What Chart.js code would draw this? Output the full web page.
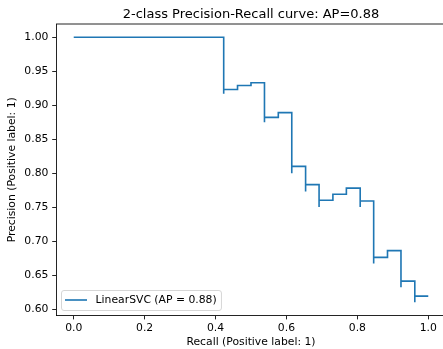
<!DOCTYPE html>
<html>
<head>
<meta charset="utf-8">
<script src="https://cdn.jsdelivr.net/npm/chart.js@4.4.1/dist/chart.umd.min.js"></script>
<style>
  html, body { margin: 0; padding: 0; overflow: hidden; background: #fff; }
  #wrap { width: 460px; height: 349px; }
</style>
</head>
<body>
<div id="wrap"><canvas id="pr-chart"></canvas></div>
<script>
// ==================== DATA ====================
// points in increasing recall; each point's precision holds back to the previous recall
const recall = [0, 0.423, 0.423, 0.462, 0.5, 0.538, 0.538, 0.577, 0.615, 0.615, 0.654, 0.654, 0.692,
  0.692, 0.731, 0.769, 0.808, 0.808, 0.846, 0.846, 0.885, 0.923, 0.923, 0.962, 0.962, 1.0];
const precision = [1, 1, 0.917, 0.923, 0.929, 0.933, 0.875, 0.882, 0.889, 0.8, 0.81, 0.773, 0.783,
  0.75, 0.76, 0.769, 0.778, 0.75, 0.759, 0.667, 0.676, 0.686, 0.632, 0.641, 0.61, 0.619];
const xTicks = [0.0, 0.2, 0.4, 0.6, 0.8, 1.0];
const yTicks = [0.60, 0.65, 0.70, 0.75, 0.80, 0.85, 0.90, 0.95, 1.00];

const seriesLabel = 'LinearSVC (AP = 0.88)';
const chartTitle = '2-class Precision-Recall curve: AP=0.88';

const FONT = 'DejaVu Sans';
const BLUE = '#1f77b4';
const FS = 10.8;

// title over the axes + top/right spines
const framePlugin = {
  id: 'frame',
  afterDatasetsDraw(chart) {
    const { ctx, chartArea: a } = chart;
    ctx.save();
    ctx.strokeStyle = '#000';
    ctx.lineWidth = 0.86;
    ctx.beginPath();
    ctx.moveTo(a.left, a.top);
    ctx.lineTo(a.right, a.top);
    ctx.lineTo(a.right, a.bottom);
    ctx.stroke();
    ctx.font = `13px "${FONT}"`;
    ctx.fillStyle = '#000';
    ctx.textAlign = 'center';
    ctx.textBaseline = 'alphabetic';
    ctx.fillText(chartTitle, (a.left + a.right) / 2, a.top - 6);
    ctx.restore();
  }
};

// matplotlib-like legend in lower left corner
const innerLegend = {
  id: 'innerLegend',
  afterDraw(chart) {
    const { ctx, chartArea: a } = chart;
    ctx.save();
    ctx.font = `${FS}px "${FONT}"`;
    const tw = ctx.measureText(seriesLabel).width;
    const w = 4 + 22 + 8.6 + tw + 4.3;
    const h = 20;
    const x = a.left + 5;
    const y = a.bottom - 5.6 - h;
    ctx.beginPath();
    ctx.roundRect(x + 0.5, y + 0.5, w, h, 2.5);
    ctx.fillStyle = 'rgba(255,255,255,0.8)';
    ctx.fill();
    ctx.strokeStyle = '#d6d6d6';
    ctx.lineWidth = 1;
    ctx.stroke();
    const cy = y + h / 2;
    ctx.strokeStyle = BLUE;
    ctx.lineWidth = 1.62;
    ctx.beginPath();
    ctx.moveTo(x + 4, cy);
    ctx.lineTo(x + 4 + 22, cy);
    ctx.stroke();
    ctx.fillStyle = '#000';
    ctx.textBaseline = 'middle';
    ctx.fillText(seriesLabel, x + 4 + 22 + 8.6, cy + 0.5);
    ctx.restore();
  }
};

const ctx = document.getElementById('pr-chart');
new Chart(ctx, {
  type: 'line',
  data: {
    datasets: [{
      label: seriesLabel,
      data: recall.map((r, i) => ({ x: r, y: precision[i] })),
      borderColor: BLUE,
      borderWidth: 1.62,
      pointRadius: 0,
      fill: false,
      stepped: 'after',
      tension: 0
    }]
  },
  options: {
    responsive: true,
    maintainAspectRatio: false,
    animation: false,
    devicePixelRatio: 1,
    layout: { padding: { left: 0, right: 14, top: 24, bottom: 0 } },
    plugins: {
      legend: { display: false },
      tooltip: { enabled: false },
      title: { display: false }
    },
    scales: {
      x: {
        type: 'linear',
        min: -0.05,
        max: 1.05,
        afterBuildTicks: (axis) => { axis.ticks = xTicks.map(v => ({ value: v })); },
        afterFit: (axis) => { axis.height = 33.4; },
        ticks: {
          color: '#000',
          padding: 2.5,
          maxRotation: 0,
          font: { family: FONT, size: FS },
          callback: (v) => v.toFixed(1)
        },
        grid: { display: true, drawOnChartArea: false, drawTicks: true, tickLength: 3.8, color: '#000', lineWidth: 0.86 },
        border: { display: true, color: '#000', width: 0.86 },
        title: {
          display: true,
          text: 'Recall (Positive label: 1)',
          color: '#000',
          font: { family: FONT, size: FS, lineHeight: 1.2 },
          padding: { top: 0, bottom: 0.5 }
        }
      },
      y: {
        type: 'linear',
        min: 0.5903,
        max: 1.0195,
        afterBuildTicks: (axis) => { axis.ticks = yTicks.map(v => ({ value: v })); },
        afterFit: (axis) => { axis.width = 56; },
        ticks: {
          color: '#000',
          padding: 3.8,
          font: { family: FONT, size: FS },
          callback: (v) => v.toFixed(2)
        },
        grid: { display: true, drawOnChartArea: false, drawTicks: true, tickLength: 3.8, color: '#000', lineWidth: 0.86 },
        border: { display: true, color: '#000', width: 0.86 },
        title: {
          display: true,
          text: 'Precision (Positive label: 1)',
          color: '#000',
          font: { family: FONT, size: FS, lineHeight: 1.2 },
          padding: { top: 5.5, bottom: 0 }
        }
      }
    }
  },
  plugins: [framePlugin, innerLegend]
});
</script>
</body>
</html>
